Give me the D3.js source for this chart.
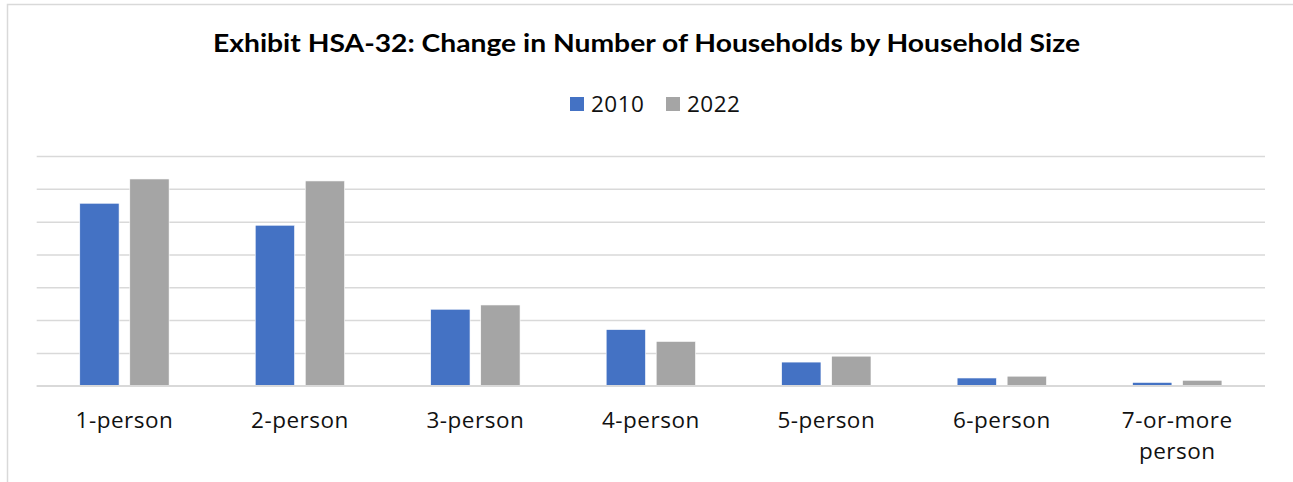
<!DOCTYPE html>
<html>
<head>
<meta charset="utf-8">
<script src="https://cdn.jsdelivr.net/npm/d3@7"></script>
<style>
  html, body { margin: 0; padding: 0; background: #fff; }
  svg { display: block; }
</style>
</head>
<body>
<svg id="chart" width="1293" height="482"></svg>
<script>
const categories = ["1-person", "2-person", "3-person", "4-person", "5-person", "6-person", "7-or-more person"];
const seriesNames = ["2010", "2022"];
const values2010 = [5560, 4890, 2330, 1710, 720, 235, 100];
const values2022 = [6300, 6240, 2460, 1350, 900, 290, 165];
const gridTicks = [0, 1000, 2000, 3000, 4000, 5000, 6000, 7000];
const colors = ["#4472C4", "#A5A5A5"];

const svg = d3.select("#chart");
const W = 1293, H = 482;

// chart frame border
svg.append("path")
  .attr("d", `M7.5,${H} V4.5 H${W}`)
  .attr("fill", "none")
  .attr("stroke", "#d9d9d9")
  .attr("stroke-width", 1.5);

const margin = { left: 36.7, right: 1265, top: 156, bottom: 385.7 };

const x = d3.scaleBand().domain(categories).range([margin.left, margin.right]).paddingInner(0).paddingOuter(0);
const xInner = d3.scaleBand().domain(seriesNames).range([0, x.bandwidth()]).paddingInner(0.214).paddingOuter(0.861);
const y = d3.scaleLinear().domain([0, 7000]).range([margin.bottom, margin.top]);

// gridlines via axis
const yAxis = d3.axisLeft(y).tickValues(gridTicks).tickSize(-(margin.right - margin.left)).tickFormat("");
const gy = svg.append("g").attr("transform", `translate(${margin.left},0)`).call(yAxis);
gy.select(".domain").remove();
gy.selectAll(".tick line").attr("stroke", "#d9d9d9").attr("stroke-width", 1.5);

// bars
const data = categories.map((c, i) => ({ cat: c, vals: [values2010[i], values2022[i]] }));
const groups = svg.append("g").selectAll("g").data(data).join("g")
  .attr("transform", d => `translate(${x(d.cat)},0)`);
groups.selectAll("rect")
  .data(d => d.vals.map((v, j) => ({ key: seriesNames[j], v, j })))
  .join("rect")
  .attr("x", d => xInner(d.key))
  .attr("width", xInner.bandwidth())
  .attr("y", d => y(d.v))
  .attr("height", d => y(0) - y(d.v))
  .attr("fill", d => colors[d.j])
  .attr("stroke", "#ffffff")
  .attr("stroke-width", 0.6);

// redraw baseline over bars
svg.append("line")
  .attr("x1", margin.left).attr("x2", margin.right)
  .attr("y1", y(0)).attr("y2", y(0))
  .attr("stroke", "#d9d9d9").attr("stroke-width", 1.5);

// x-axis labels
const xAxis = d3.axisBottom(x).tickSize(0).tickPadding(0);
const gx = svg.append("g").attr("transform", `translate(0,${y(0)})`).call(xAxis);
gx.select(".domain").remove();
gx.selectAll(".tick text").each(function(d) {
  const t = d3.select(this);
  t.text(null)
   .attr("fill", "#111")
   .attr("font-family", "'Open Sans', sans-serif")
   .attr("font-size", 22.5)
   .attr("letter-spacing", 0.5)
   .attr("dy", null)
   .attr("y", 0);
  const lines = d === "7-or-more person" ? ["7-or-more", "person"] : [d];
  lines.forEach((ln, k) => {
    t.append("tspan").attr("x", 0).attr("y", 42.6 + k * 30.7).text(ln);
  });
});

// title
svg.append("text")
  .attr("x", 646.5).attr("y", 51.7)
  .attr("text-anchor", "middle")
  .attr("font-family", "Lato, sans-serif")
  .attr("font-weight", "bold")
  .attr("font-size", 24)
  .attr("fill", "#000")
  .attr("textLength", 867)
  .attr("lengthAdjust", "spacingAndGlyphs")
  .text("Exhibit HSA-32: Change in Number of Households by Household Size");

// legend
const legendItems = [
  { name: seriesNames[0], color: colors[0], sx: 570, tx: 591 },
  { name: seriesNames[1], color: colors[1], sx: 666, tx: 687 }
];
const lg = svg.append("g");
lg.selectAll("rect").data(legendItems).join("rect")
  .attr("x", d => d.sx).attr("y", 97).attr("width", 14).attr("height", 14)
  .attr("fill", d => d.color);
lg.selectAll("text").data(legendItems).join("text")
  .attr("x", d => d.tx).attr("y", 111.5)
  .attr("font-family", "'Open Sans', sans-serif")
  .attr("font-size", 22.5)
  .attr("letter-spacing", 0.5)
  .attr("fill", "#111")
  .text(d => d.name);
</script>
</body>
</html>
